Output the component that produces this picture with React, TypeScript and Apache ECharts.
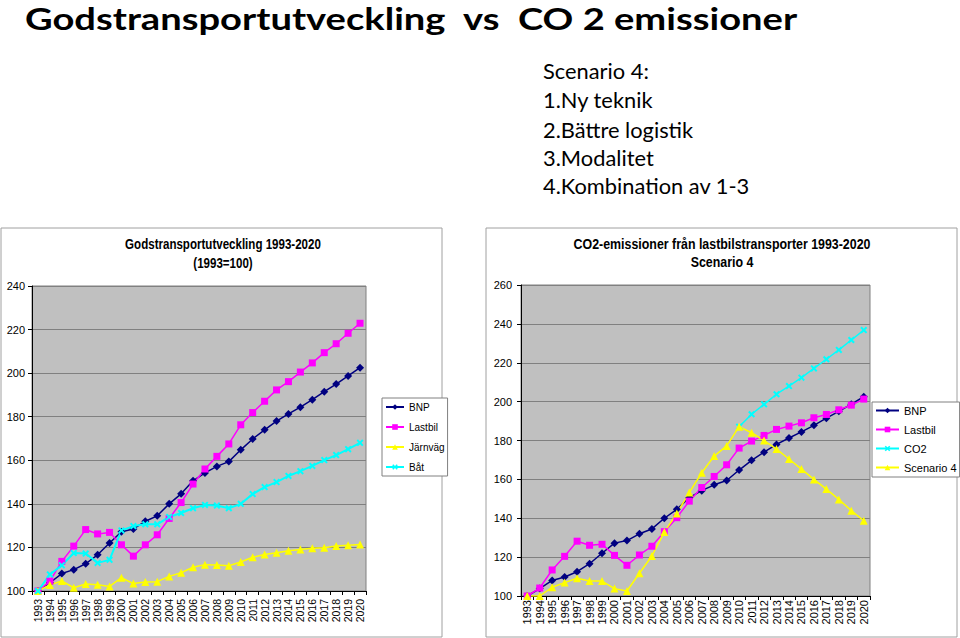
import React, { useEffect, useRef } from "react";
import * as echarts from "echarts";

const years = ["1993","1994","1995","1996","1997","1998","1999","2000","2001","2002","2003","2004","2005","2006","2007","2008","2009","2010","2011","2012","2013","2014","2015","2016","2017","2018","2019","2020"];

const bnp = [100, 103.8, 108, 109.8, 112.5, 116.6, 122, 127.2, 128.5, 132, 134.5, 140, 144.6, 150.6, 154.2, 157.2, 159.4, 164.8, 169.8, 174, 178, 181.3, 184.4, 187.8, 191.5, 195, 198.7, 202.5];
const lastbilLeft = [100, 104.5, 113.6, 120.6, 128.2, 126.2, 126.9, 121.2, 116, 121.2, 125.8, 133.3, 140.6, 149.1, 156, 161.8, 167.5, 176.3, 181.9, 187.1, 192.3, 196.1, 200.5, 204.7, 209.4, 213.5, 218.3, 222.9];
const jarnvag = [100, 102.8, 104.6, 101.5, 103.2, 102.9, 102.1, 106.1, 103.4, 104.1, 104.3, 106.7, 108.4, 110.9, 112.1, 111.9, 111.6, 113.3, 115.5, 116.8, 117.6, 118.5, 119.1, 119.6, 119.9, 120.7, 121, 121.3];
const bat = [100, 107.6, 111.8, 117.4, 117.2, 112.9, 114.3, 127.8, 129.8, 130.6, 130.6, 134, 135.8, 138, 139.5, 139.2, 138, 140, 144.5, 147.7, 150, 152.8, 155, 157.4, 160.1, 162.4, 165.1, 168];

const lastbilRight = [100, 104.1, 113.4, 120.4, 128.2, 126.1, 126.6, 120.9, 115.8, 121.1, 125.6, 133.1, 140.3, 148.8, 155.8, 161.5, 167.5, 176.1, 179.7, 182.6, 185.7, 187.4, 189.1, 191.7, 193.4, 195.8, 198.2, 201.3];
const co2 = [null, null, null, null, null, null, null, null, null, null, null, null, null, null, null, null, null, 187.1, 193.5, 198.6, 203.8, 208, 212.3, 217.1, 221.8, 226.6, 231.7, 236.8];
const scenario4 = [100, 100, 104.5, 106.9, 109.1, 107.7, 107.7, 103.8, 102.6, 111.7, 120.6, 132.9, 142.5, 153.2, 163.4, 172, 177.2, 187.1, 184, 180, 175.6, 170.5, 165.3, 160, 155, 149.7, 143.9, 138.7];

const leftTicks = { min: 100, max: 240, interval: 20 };
const rightTicks = { min: 100, max: 260, interval: 20 };

const mainTitle = "Godstransportutveckling  vs  CO 2 emissioner";
const scenarioLines = ["Scenario 4:", "1.Ny teknik", "2.Bättre logistik", "3.Modalitet", "4.Kombination av 1-3"];
const leftTitle = ["Godstransportutveckling 1993-2020", "(1993=100)"];
const rightTitle = ["CO2-emissioner från lastbilstransporter 1993-2020", "Scenario 4"];

const AX_FONT = "'Liberation Sans Narrow', 'Liberation Sans', Arial, sans-serif";
const CROSS = "path://M2,0 L5,3 L8,0 L10,2 L7,5 L10,8 L8,10 L5,7 L2,10 L0,8 L3,5 L0,2 Z";

const NAVY = "#000080";
const MAGENTA = "#FF00FF";
const YELLOW = "#FFFF00";
const CYAN = "#00FFFF";

function measure(text: string, font: string): number {
  const c = document.createElement("canvas").getContext("2d");
  if (!c) return 0;
  c.font = font;
  return c.measureText(text).width;
}
function fit(text: string, font: string, target: number): number {
  const w = measure(text, font);
  return w > 0 ? target / w : 1;
}

function lineSeries(name: string, data: any[], color: string, symbol: string, size: number, axis: number, width = 1.5) {
  return {
    type: "line",
    name,
    data,
    xAxisIndex: axis,
    yAxisIndex: axis,
    symbol,
    symbolSize: size,
    showAllSymbol: true,
    connectNulls: false,
    lineStyle: { color, width },
    itemStyle: { color },
    emphasis: { disabled: true },
  };
}

export default function App() {
  const ref = useRef<HTMLDivElement>(null);
  useEffect(() => {
    if (!ref.current) return;
    const chart = echarts.init(ref.current, null, { renderer: "svg" });

    const mainFs = 26;
    const mainScaleY = 30 / mainFs;
    const mainScale = fit(mainTitle, `bold ${mainFs}px Lato`, 773);
    const listScale = fit(scenarioLines[4], "21px Lato", 207);
    const tFont = "bold 15px 'Liberation Sans'";
    const lScale = fit(leftTitle[0], tFont, 196);
    const rScale = fit(rightTitle[0], tFont, 297);

    const listYs = [71, 100, 130, 158, 186];

    const xAxisBase = (gridIndex: number, fontSize: number, margin: number) => ({
      type: "category",
      gridIndex,
      data: years,
      boundaryGap: true,
      axisLine: { show: true, lineStyle: { color: "#000", width: 1 } },
      axisTick: { show: true, length: 4, lineStyle: { color: "#000" } },
      axisLabel: { rotate: 90, interval: 0, fontSize, color: "#000", margin, fontFamily: AX_FONT },
      splitLine: { show: false },
    });
    const yAxisBase = (gridIndex: number, t: any, margin: number, fontSize: number) => ({
      type: "value",
      gridIndex,
      min: t.min,
      max: t.max,
      interval: t.interval,
      axisLine: { show: true, lineStyle: { color: "#000", width: 1 } },
      axisTick: { show: true, length: 4, lineStyle: { color: "#000" } },
      axisLabel: { fontSize, color: "#000", margin, fontFamily: AX_FONT },
      splitLine: { show: true, lineStyle: { color: "#808080", width: 1 } },
    });

    const titleText = (text: string, x: number, y: number, scaleX: number) => ({
      type: "text",
      x,
      y,
      scaleX,
      z: 10,
      style: { text, fontFamily: "Liberation Sans", fontWeight: "bold", fontSize: 15, fill: "#000", align: "center", verticalAlign: "middle" },
    });

    chart.setOption({
      animation: false,
      backgroundColor: "#ffffff",
      graphic: [
        { type: "rect", z: -10, shape: { x: 1, y: 228, width: 441, height: 409 }, style: { fill: "#fff", stroke: "#a0a0a0", lineWidth: 1 } },
        { type: "rect", z: -10, shape: { x: 486, y: 228, width: 471, height: 409 }, style: { fill: "#fff", stroke: "#a0a0a0", lineWidth: 1 } },
        {
          type: "text", x: 25, y: 18.5, scaleX: mainScale, scaleY: mainScaleY, z: 10,
          style: { text: mainTitle, fontFamily: "Lato", fontWeight: "bold", fontSize: mainFs, fill: "#000", align: "left", verticalAlign: "middle" },
        },
        ...scenarioLines.map((t, i) => ({
          type: "text", x: 543, y: listYs[i], scaleX: listScale, z: 10,
          style: { text: t, fontFamily: "Lato", fontSize: 21, fill: "#000", align: "left", verticalAlign: "middle" },
        })),
        titleText(leftTitle[0], 223, 244, lScale),
        titleText(leftTitle[1], 223, 263, lScale),
        titleText(rightTitle[0], 722, 244, rScale),
        titleText(rightTitle[1], 722, 262, rScale),
      ],
      grid: [
        { left: 32, top: 286, width: 334, height: 305, show: true, backgroundColor: "#C0C0C0", borderColor: "#808080", borderWidth: 1, containLabel: false },
        { left: 521, top: 285, width: 349, height: 311, show: true, backgroundColor: "#C0C0C0", borderColor: "#808080", borderWidth: 1, containLabel: false },
      ],
      xAxis: [xAxisBase(0, 10.5, 8), xAxisBase(1, 11, 4)],
      yAxis: [yAxisBase(0, leftTicks, 7, 11), yAxisBase(1, rightTicks, 9, 11)],
      legend: [
        {
          left: 382, top: 398, orient: "vertical",
          data: ["BNP", "Lastbil", "Järnväg", "Båt"],
          itemWidth: 18, itemHeight: 7, itemGap: 10,
          padding: [4, 3, 4, 3],
          borderColor: "#808080", borderWidth: 1, backgroundColor: "#fff",
          textStyle: { fontSize: 10, color: "#000", fontFamily: AX_FONT },
          selectedMode: false,
        },
        {
          left: 872, top: 402, orient: "vertical",
          data: ["BNP", "Lastbil", "CO2", "Scenario 4"],
          itemWidth: 23, itemHeight: 7, itemGap: 8,
          padding: [3, 3, 4, 3],
          borderColor: "#808080", borderWidth: 1, backgroundColor: "#fff",
          textStyle: { fontSize: 11, color: "#000", fontFamily: AX_FONT },
          selectedMode: false,
        },
      ],
      series: [
        lineSeries("BNP", bnp, NAVY, "diamond", 8, 0),
        lineSeries("Lastbil", lastbilLeft, MAGENTA, "rect", 7, 0),
        lineSeries("Järnväg", jarnvag, YELLOW, "triangle", 8, 0),
        lineSeries("Båt", bat, CYAN, CROSS, 7, 0, 2),
        lineSeries("BNP", bnp, NAVY, "diamond", 8, 1),
        lineSeries("Lastbil", lastbilRight, MAGENTA, "rect", 7, 1),
        lineSeries("CO2", co2, CYAN, CROSS, 7, 1),
        lineSeries("Scenario 4", scenario4, YELLOW, "triangle", 8, 1),
      ],
    });
    return () => chart.dispose();
  }, []);
  return <div ref={ref} style={{ position: "fixed", left: 0, top: 0, width: 960, height: 638 }} />;
}
